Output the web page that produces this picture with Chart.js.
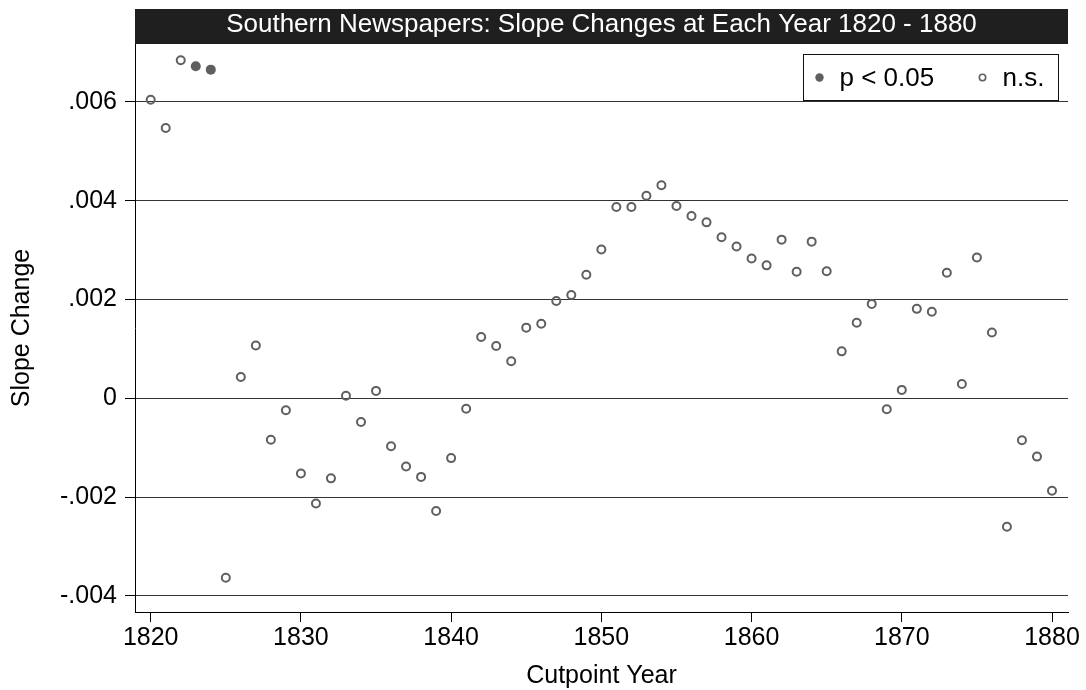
<!DOCTYPE html>
<html>
<head>
<meta charset="utf-8">
<title>Southern Newspapers: Slope Changes</title>
<script src="https://cdn.jsdelivr.net/npm/chart.js@4/dist/chart.umd.min.js"></script>
<style>
  html, body { margin: 0; padding: 0; background: #fff; }
  #wrap { position: relative; width: 1086px; height: 690px; }
</style>
</head>
<body>
<div id="wrap"><canvas id="chart" width="1086" height="690"></canvas></div>
<script>
// Cutpoint years and the estimated slope change at each one
const years = [
  1820, 1821, 1822, 1823, 1824, 1825, 1826, 1827, 1828, 1829,
  1830, 1831, 1832, 1833, 1834, 1835, 1836, 1837, 1838, 1839,
  1840, 1841, 1842, 1843, 1844, 1845, 1846, 1847, 1848, 1849,
  1850, 1851, 1852, 1853, 1854, 1855, 1856, 1857, 1858, 1859,
  1860, 1861, 1862, 1863, 1864, 1865, 1866, 1867, 1868, 1869,
  1870, 1871, 1872, 1873, 1874, 1875, 1876, 1877, 1878, 1879,
  1880
];
const slopeChange = [
  0.00604, 0.00547, 0.00684, 0.00672, 0.00665, -0.00363, 0.00043, 0.00107, -0.00084, -0.00024,
  -0.00152, -0.00213, -0.00162, 0.00005, -0.00048, 0.00015, -0.00097, -0.00138, -0.00159, -0.00228,
  -0.00121, -0.00021, 0.00124, 0.00106, 0.00075, 0.00143, 0.00151, 0.00197, 0.00209, 0.00250,
  0.00301, 0.00387, 0.00387, 0.00410, 0.00431, 0.00389, 0.00369, 0.00356, 0.00326, 0.00307,
  0.00283, 0.00269, 0.00321, 0.00256, 0.00317, 0.00257, 0.00095, 0.00153, 0.00191, -0.00022,
  0.00017, 0.00181, 0.00175, 0.00254, 0.00029, 0.00285, 0.00133, -0.00260, -0.00085, -0.00118,
  -0.00187
];
// Years whose slope change is significant at p < 0.05
const significantYears = [1823, 1824];

// Axis ticks and labels
const xTicks = [1820, 1830, 1840, 1850, 1860, 1870, 1880];
const yTicks = [-0.004, -0.002, 0, 0.002, 0.004, 0.006];
const yTickLabels = ['-.004', '-.002', '0', '.002', '.004', '.006'];

const titleText = 'Southern Newspapers: Slope Changes at Each Year 1820 - 1880';
const seriesNames = ['p < 0.05', 'n.s.'];

const FONT = '"Liberation Sans", Arial, Helvetica, sans-serif';
const MARK = '#5f5f5f';

const sigPoints = [], nsPoints = [];
years.forEach((yr, i) => {
  const pt = { x: yr, y: slopeChange[i] };
  (significantYears.includes(yr) ? sigPoints : nsPoints).push(pt);
});

// Dark title band across the top of the plot region
const titleBand = {
  id: 'titleBand',
  afterDraw(chart) {
    const { ctx, chartArea } = chart;
    ctx.save();
    ctx.fillStyle = '#1f1f1f';
    ctx.fillRect(chartArea.left, 9, chartArea.right - chartArea.left, chartArea.top - 9);
    ctx.fillStyle = '#ffffff';
    ctx.font = '26px ' + FONT;
    ctx.textAlign = 'center';
    ctx.textBaseline = 'alphabetic';
    ctx.fillText(titleText, (chartArea.left + chartArea.right) / 2, 32);
    ctx.restore();
  }
};

// Boxed legend in the upper right corner of the plot
const boxLegend = {
  id: 'boxLegend',
  afterDraw(chart) {
    const { ctx, chartArea } = chart;
    const right = chartArea.right - 9.5;
    const left = right - 255;
    const top = chartArea.top + 10.5;
    const h = 46;
    const cy = top + h / 2;
    ctx.save();
    ctx.fillStyle = '#ffffff';
    ctx.fillRect(left, top, right - left, h);
    ctx.strokeStyle = '#111';
    ctx.lineWidth = 1;
    ctx.strokeRect(left, top, right - left, h);

    ctx.fillStyle = MARK;
    ctx.beginPath();
    ctx.arc(left + 16, cy, 4.2, 0, Math.PI * 2);
    ctx.fill();

    ctx.strokeStyle = MARK;
    ctx.lineWidth = 1.6;
    ctx.beginPath();
    ctx.arc(left + 179, cy, 3.2, 0, Math.PI * 2);
    ctx.stroke();

    ctx.fillStyle = '#000';
    ctx.font = '26px ' + FONT;
    ctx.textAlign = 'left';
    ctx.textBaseline = 'middle';
    ctx.fillText(seriesNames[0], left + 36, cy + 1);
    ctx.fillText(seriesNames[1], left + 199, cy + 1);
    ctx.restore();
  }
};

new Chart(document.getElementById('chart'), {
  type: 'scatter',
  data: {
    datasets: [
      {
        label: seriesNames[0],
        data: sigPoints,
        pointRadius: 5,
        pointBackgroundColor: MARK,
        pointBorderColor: MARK,
        pointBorderWidth: 0,
        pointHoverRadius: 5
      },
      {
        label: seriesNames[1],
        data: nsPoints,
        pointRadius: 4,
        pointBackgroundColor: 'rgba(255,255,255,0)',
        pointBorderColor: MARK,
        pointBorderWidth: 2,
        pointHoverRadius: 4
      }
    ]
  },
  options: {
    responsive: false,
    animation: false,
    devicePixelRatio: 1,
    layout: { padding: { top: 44, right: 18, bottom: 0, left: 0 } },
    plugins: {
      legend: { display: false },
      title: { display: false },
      tooltip: { enabled: false }
    },
    scales: {
      x: {
        type: 'linear',
        min: 1818.955,
        max: 1881.065,
        afterBuildTicks(scale) { scale.ticks = xTicks.map(v => ({ value: v })); },
        afterFit(scale) { scale.height = 78; },
        grid: { drawOnChartArea: false, drawTicks: true, tickLength: 10, tickColor: '#000', color: '#000' },
        border: { display: true, color: '#000', width: 1 },
        ticks: {
          color: '#000',
          font: { family: FONT, size: 25 },
          padding: 1,
          maxRotation: 0,
          callback: v => String(v)
        },
        title: {
          display: true,
          text: 'Cutpoint Year',
          color: '#000',
          font: { family: FONT, size: 25 },
          padding: { top: 0, bottom: -1 }
        }
      },
      y: {
        type: 'linear',
        min: -0.004324,
        max: 0.007169,
        afterBuildTicks(scale) { scale.ticks = yTicks.map(v => ({ value: v })); },
        afterFit(scale) { scale.width = 135; },
        grid: { drawOnChartArea: true, drawTicks: true, tickLength: 10, tickColor: '#000', color: '#333333', lineWidth: 1 },
        border: { display: true, color: '#000', width: 1 },
        ticks: {
          color: '#000',
          font: { family: FONT, size: 25 },
          padding: 8,
          callback: (v) => {
            const i = yTicks.findIndex(t => Math.abs(t - v) < 1e-9);
            return i >= 0 ? yTickLabels[i] : '';
          }
        },
        title: {
          display: true,
          text: 'Slope Change',
          color: '#000',
          font: { family: FONT, size: 25 },
          padding: { top: 7, bottom: 0 }
        }
      }
    }
  },
  plugins: [titleBand, boxLegend]
});
</script>
</body>
</html>
